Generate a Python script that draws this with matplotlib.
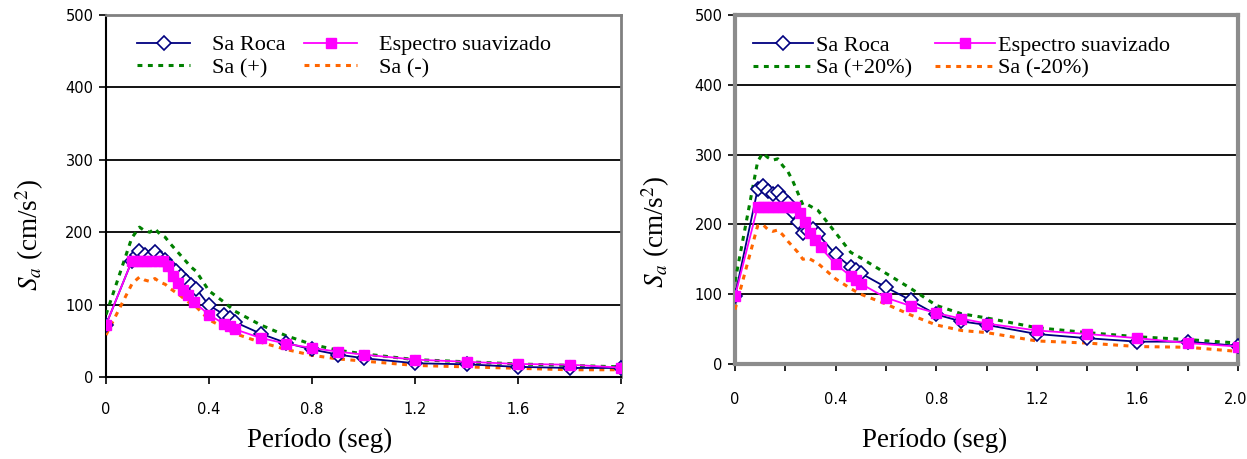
import numpy as np
import matplotlib
matplotlib.use("Agg")
import matplotlib.pyplot as plt
from matplotlib.transforms import ScaledTranslation

# --- left panel: Sa (+) / Sa (-) ---
T_left = [0, 0.10, 0.12, 0.13, 0.15, 0.17, 0.19, 0.21, 0.23, 0.25, 0.27, 0.29, 0.31,
          0.33, 0.35, 0.40, 0.46, 0.48, 0.50, 0.60, 0.70, 0.80, 0.90, 1.00, 1.20,
          1.40, 1.60, 1.80, 2.00]
roca_left = [72, 160, 168, 174, 169, 166, 172, 164, 162, 153, 147, 140, 133,
             127, 122, 99, 86, 81, 76, 60, 47, 38, 31, 26, 19, 17.5, 14, 12.5, 12.5]
plus_left = [86, 192, 202, 207, 202, 200, 205, 197, 193, 184, 176, 168, 160,
             152, 146, 119, 103, 97, 91, 72, 57, 45, 37, 32, 24, 21, 18, 16, 14]
minus_left = [58, 128, 135, 138, 134, 132, 136, 131, 128, 122, 117, 112, 106,
              101, 97, 79, 68, 64, 60, 48, 38, 30, 25, 22, 16, 14, 12, 10, 10]

Ts_left = [0, 0.10, 0.12, 0.14, 0.16, 0.18, 0.20, 0.22, 0.24, 0.26, 0.28, 0.30, 0.32,
           0.34, 0.40, 0.46, 0.48, 0.50, 0.60, 0.70, 0.80, 0.90, 1.00, 1.20, 1.40,
           1.60, 1.80, 2.00]
suav_left = [72, 160, 160, 160, 160, 160, 160, 160, 153, 140, 130, 120, 113,
             104, 86, 73, 70, 66, 54, 46, 40, 35, 31, 24, 21, 18, 17, 13]

# --- right panel: Sa (+20%) / Sa (-20%) ---
T_right = [0, 0.09, 0.11, 0.13, 0.15, 0.17, 0.19, 0.21, 0.23, 0.25, 0.27, 0.29, 0.31,
           0.33, 0.40, 0.46, 0.48, 0.50, 0.60, 0.70, 0.80, 0.90, 1.00, 1.20, 1.40,
           1.60, 1.80, 2.00]
roca_right = [98, 250, 255, 248, 244, 246, 238, 230, 218, 204, 188, 190, 194,
              186, 157, 139, 134, 130, 110, 91, 71, 61, 56, 43, 37, 32, 32, 26]
plus_right = [118, 290, 302, 296, 292, 294, 284, 276, 262, 245, 228, 228, 224,
              220, 188, 160, 156, 152, 130, 108, 84, 72, 66, 52, 45, 39, 35, 30]
minus_right = [78, 198, 200, 193, 190, 192, 185, 176, 168, 160, 150, 152, 148,
               144, 122, 108, 104, 100, 86, 70, 56, 48, 45, 33, 30, 25, 24, 18]

Ts_right = [0, 0.09, 0.11, 0.13, 0.15, 0.17, 0.19, 0.21, 0.23, 0.24, 0.26, 0.28,
            0.30, 0.32, 0.34, 0.40, 0.46, 0.48, 0.50, 0.60, 0.70, 0.80, 0.90,
            1.00, 1.20, 1.40, 1.60, 1.80, 2.00]
suav_right = [97, 225, 225, 225, 225, 225, 225, 225, 225, 225, 217, 203, 188,
              177, 167, 143, 126, 120, 115, 95, 83, 73, 65, 58, 48, 43, 37, 30, 25]

y_ticks = [0, 100, 200, 300, 400, 500]

NAVY = "#000080"
MAGENTA = "#FF00FF"
GREEN = "#008000"
ORANGE = "#FF6600"
SERIF = "Liberation Serif"
DOTS = (1.6, 1.8)

plt.rcParams.update({"font.family": "DejaVu Sans", "font.size": 10,
                     "mathtext.fontset": "stix"})

fig = plt.figure(figsize=(12.47, 4.59), dpi=100)
ax1 = fig.add_axes([106 / 1247, 1 - 377 / 459, 515 / 1247, 362 / 459])
ax2 = fig.add_axes([735 / 1247, 1 - 364 / 459, 503 / 1247, 349 / 459])


def draw(ax, T, roca, plus, minus, Ts, suav, lab_plus, lab_minus):
    hp, = ax.plot(T, plus, color=GREEN, lw=2.2, dashes=DOTS, label=lab_plus, zorder=3)
    hm, = ax.plot(T, minus, color=ORANGE, lw=2.2, dashes=DOTS, label=lab_minus, zorder=3)
    hr, = ax.plot(T, roca, "-", color=NAVY, lw=1.3, marker="D", ms=7,
                  mfc="white", mec=NAVY, mew=1.2, label="Sa Roca", zorder=4)
    hs, = ax.plot(Ts, suav, "-", color=MAGENTA, lw=1.3, marker="s", ms=7,
                  mfc=MAGENTA, mec=MAGENTA, label="Espectro suavizado", zorder=5)
    ax.set_xlim(0, 2)
    ax.set_ylim(0, 500)
    ax.set_yticks(y_ticks)
    for y in y_ticks[1:-1]:
        ax.axhline(y, color="black", lw=1.3, zorder=1)
    ax.tick_params(axis="both", direction="out", length=5, width=1.2, labelsize=10.5)
    ax.tick_params(axis="y", pad=4)
    return [hr, hp, hs, hm]


h1 = draw(ax1, T_left, roca_left, plus_left, minus_left, Ts_left, suav_left,
          "Sa (+)", "Sa (-)")
h2 = draw(ax2, T_right, roca_right, plus_right, minus_right, Ts_right, suav_right,
          "Sa (+20%)", "Sa (-20%)")

# left panel axes
ax1.set_xticks([0, 0.4, 0.8, 1.2, 1.6, 2.0])
ax1.set_xticklabels(["0", "0.4", "0.8", "1.2", "1.6", "2"])
ax1.tick_params(axis="x", pad=13)
for s in ["left", "bottom"]:
    ax1.spines[s].set_color("black")
    ax1.spines[s].set_linewidth(1.5)
for s in ["top", "right"]:
    ax1.spines[s].set_color("#808080")
    ax1.spines[s].set_linewidth(2)

# right panel axes
ax2.set_xticks(np.arange(0, 2.01, 0.2))
ax2.set_xticklabels(["0", "", "0.4", "", "0.8", "", "1.2", "", "1.6", "", "2.0"])
ax2.tick_params(axis="x", pad=15)
last = ax2.get_xticklabels()[-1]
last.set_horizontalalignment("right")
last.set_transform(last.get_transform() + ScaledTranslation(9 / 100, 0, fig.dpi_scale_trans))
for s in ax2.spines.values():
    s.set_color("#8c8c8c")
    s.set_linewidth(3)

leg_font = {"family": SERIF, "size": 16}
ax1.legend(h1, [h.get_label() for h in h1], ncol=2, frameon=False, prop=leg_font,
           loc="upper left", bbox_to_anchor=(0.06, 0.945), borderaxespad=0,
           borderpad=0, handlelength=2.4, handletextpad=1.0, columnspacing=0.8,
           labelspacing=0.1)
ax2.legend(h2, [h.get_label() for h in h2], ncol=2, frameon=False, prop=leg_font,
           loc="upper left", bbox_to_anchor=(0.036, 0.941), borderaxespad=0,
           borderpad=0, handlelength=2.7, handletextpad=0.15, columnspacing=1.0,
           labelspacing=0.1)

lab_font = {"family": SERIF, "size": 19.5}
fig.text(320 / 1247, 1 - 440 / 459, "Período (seg)", ha="center", va="center", **lab_font)
fig.text(935 / 1247, 1 - 440 / 459, "Período (seg)", ha="center", va="center", **lab_font)
fig.text(30 / 1247, 1 - 235 / 459, r"$S_a$ (cm/s$^2$)", rotation=90, ha="center",
         va="center", **lab_font)
fig.text(656 / 1247, 1 - 232 / 459, r"$S_a$ (cm/s$^2$)", rotation=90, ha="center",
         va="center", **lab_font)

fig.savefig("out.png", dpi=100)
